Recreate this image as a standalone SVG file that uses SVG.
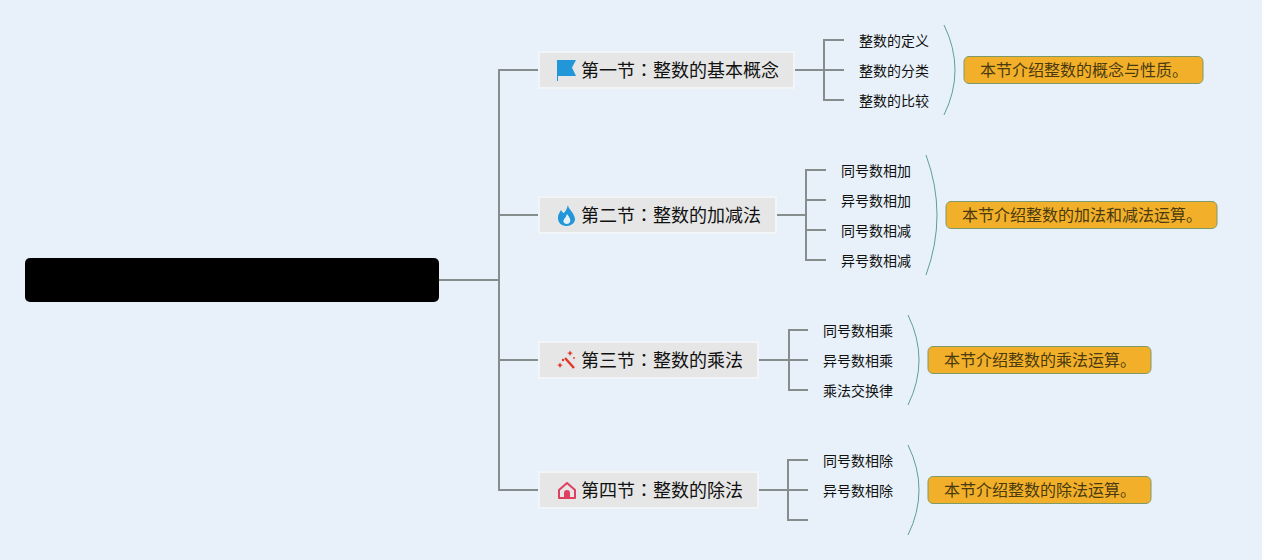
<svg xmlns="http://www.w3.org/2000/svg" width="1262" height="560" viewBox="0 0 1262 560">
<style>
text{font-family:"Noto Sans CJK SC","Noto Sans",sans-serif;fill:#111}
.c{font-family:"Noto Sans CJK TC","Noto Sans",sans-serif}
.t{font-size:18px}
.s{font-size:14px}
.n{font-size:16px;fill:#4a3a10}
.box{fill:#e6e6e6;stroke:#f2f5f8;stroke-width:2}
.note{fill:#f2b02a;stroke:#7f9a6a;stroke-width:1}
.l{fill:none;stroke:#858d8d;stroke-width:2}
.b{fill:none;stroke:#5f9e9a;stroke-width:1}
</style>
<rect width="1262" height="560" fill="#e8f1f9"/>
<g id="connectors">
<path class="l" d="M439 280H499M539 70H499V490H539M499 215H539M499 360H539"/>
<path class="l" d="M794 70H844M844 40H824V100H844"/>
<path class="l" d="M776 215H806M826 170H806V260H826M806 200H826M806 230H826"/>
<path class="l" d="M758 360H808M808 330H789V390H808"/>
<path class="l" d="M758 490H808M808 460H788V520H808"/>
<path class="b" d="M944 25Q966 70 944 115"/>
<path class="b" d="M926 155Q948 215 926 275"/>
<path class="b" d="M908 315Q930 360 908 405"/>
<path class="b" d="M908 445Q930 490 908 535"/>
</g>
<g id="root"><rect x="25" y="258" width="414" height="44" rx="5" fill="#000"/></g>
<g id="topic1">
<rect class="box" x="539" y="52" width="255" height="36"/>
<path d="M557 60H576L572 67.500L576 76H558V81H557Z" fill="#2196d8"/>
<text class="t" x="581" y="77">第一节<tspan class="c">：</tspan>整数的基本概念</text>
</g>
<g id="topic2">
<rect class="box" x="539" y="197" width="237" height="36"/>
<path d="M568 205C568 209 574 212 575 219C575 223 571 226 566.500 226C561 226 557.500 222 558 217C558 214 560 212 561 210C562 212 563 213 564 213C566 211 567 208 568 205Z" fill="#2196d8"/>
<path d="M567 214C569 217 571 219 570 222C569 224.500 564.500 224.500 563.500 222C563 219 566 218 567 214Z" fill="#e8f1f9"/>
<text class="t" x="581" y="222">第二节<tspan class="c">：</tspan>整数的加减法</text>
</g>
<g id="topic3">
<rect class="box" x="539" y="342" width="219" height="36"/>
<path d="M565 358L574 368" fill="none" stroke="#e0392b" stroke-width="2.500"/>
<path d="M570 350.500L571 352.500L573 353L571 354L570 356L569 354L567 353L569 352.500Z" fill="#e0392b"/>
<path d="M560 362.500L561 364.500L563 365L561 366L560 368L559 366L557 365L559 364.500Z" fill="#e0392b"/>
<circle cx="563" cy="360" r="1.200" fill="#e0392b"/><circle cx="574" cy="358" r="0.900" fill="#e0392b"/>
<text class="t" x="581" y="367">第三节<tspan class="c">：</tspan>整数的乘法</text>
</g>
<g id="topic4">
<rect class="box" x="539" y="472" width="219" height="36"/>
<path d="M559 490L567 483L575 490V498H559Z" fill="none" stroke="#e0405f" stroke-width="2" stroke-linejoin="round"/>
<path d="M564 498V493A3 3 0 0 1 570 493V498Z" fill="#e0405f"/>
<text class="t" x="581" y="497">第四节<tspan class="c">：</tspan>整数的除法</text>
</g>
<g id="sub1">
<text class="s" x="859" y="46">整数的定义</text>
<text class="s" x="859" y="76">整数的分类</text>
<text class="s" x="859" y="106">整数的比较</text>
</g>
<g id="sub2">
<text class="s" x="841" y="176">同号数相加</text>
<text class="s" x="841" y="206">异号数相加</text>
<text class="s" x="841" y="236">同号数相减</text>
<text class="s" x="841" y="266">异号数相减</text>
</g>
<g id="sub3">
<text class="s" x="823" y="336">同号数相乘</text>
<text class="s" x="823" y="366">异号数相乘</text>
<text class="s" x="823" y="396">乘法交换律</text>
</g>
<g id="sub4">
<text class="s" x="823" y="466">同号数相除</text>
<text class="s" x="823" y="496">异号数相除</text>
</g>
<g id="note1"><rect class="note" x="964" y="56.500" width="239" height="27" rx="5"/><text class="n" x="980" y="76">本节介绍整数的概念与性质。</text></g>
<g id="note2"><rect class="note" x="946" y="201.500" width="271" height="27" rx="5"/><text class="n" x="962" y="221">本节介绍整数的加法和减法运算。</text></g>
<g id="note3"><rect class="note" x="928" y="346.500" width="223" height="27" rx="5"/><text class="n" x="944" y="366">本节介绍整数的乘法运算。</text></g>
<g id="note4"><rect class="note" x="928" y="476.500" width="223" height="27" rx="5"/><text class="n" x="944" y="496">本节介绍整数的除法运算。</text></g>
</svg>
